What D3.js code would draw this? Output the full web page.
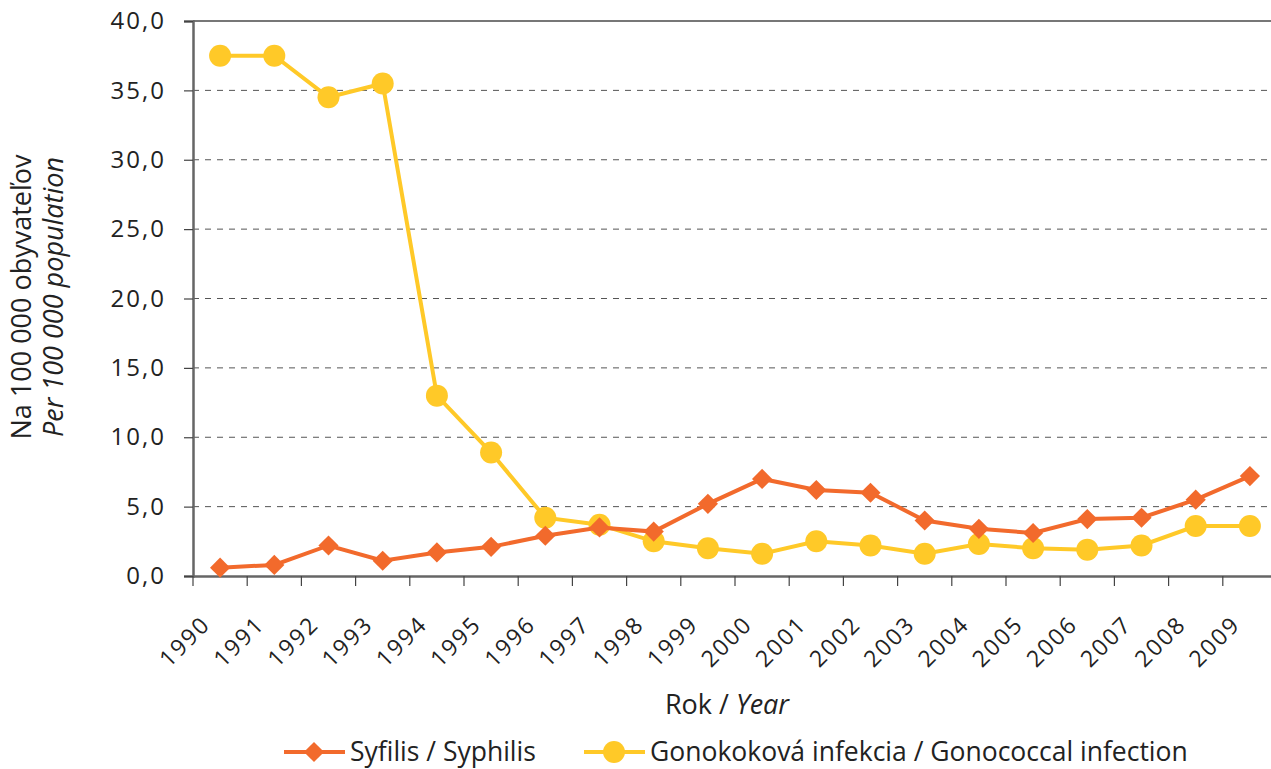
<!DOCTYPE html>
<html><head><meta charset="utf-8">
<script src="https://cdn.jsdelivr.net/npm/d3@7"></script>
<style>body{margin:0;background:#fff;} text{font-family:"Open Sans",sans-serif;fill:#222;}</style>
</head><body><svg id="c" width="1271" height="769"></svg>
<script>
const years = ["1990","1991","1992","1993","1994","1995","1996","1997","1998","1999","2000","2001","2002","2003","2004","2005","2006","2007","2008","2009"];
const syphilis = [0.6,0.8,2.2,1.1,1.7,2.1,2.9,3.5,3.2,5.2,7.0,6.2,6.0,4.0,3.4,3.1,4.1,4.2,5.5,7.2];
const gonococcal = [37.5,37.5,34.5,35.5,13.0,8.9,4.2,3.7,2.5,2.0,1.6,2.5,2.2,1.6,2.3,2.0,1.9,2.2,3.6,3.6];
const yTicks = [0,5,10,15,20,25,30,35,40];
const seriesNames = ["Syfilis / Syphilis","Gonokoková infekcia / Gonococcal infection"];

const svg = d3.select("#c");
const L=193, R=1277, T=21, B=576;
const x = d3.scaleBand().domain(years).range([L,R]);
const y = d3.scaleLinear().domain([0,40]).range([B,T]);
const fmt = d => d.toFixed(1).replace(".",",");
const orange="#F26A2C", yellow="#FFC928";

// grid
svg.append("g").selectAll("line").data(yTicks.filter(d=>d>0&&d<40)).join("line")
  .attr("x1",L).attr("x2",R).attr("y1",d=>y(d)).attr("y2",d=>y(d))
  .attr("stroke","#555").attr("stroke-width",1).attr("stroke-dasharray","6,6");
// top border
svg.append("line").attr("x1",L).attr("x2",R).attr("y1",T).attr("y2",T).attr("stroke","#777").attr("stroke-width",2);

// y axis
const ya = svg.append("g").attr("transform",`translate(${L},0)`)
  .call(d3.axisLeft(y).tickValues(yTicks).tickFormat(fmt).tickSize(9).tickPadding(18));
ya.select(".domain").attr("stroke","#666").attr("stroke-width",2.5);
ya.selectAll(".tick line").attr("stroke","#444").attr("stroke-width",1.2);
ya.selectAll("text").attr("font-size",24).attr("letter-spacing",2).style("font-family","'Open Sans',sans-serif").attr("fill","#222");

// x axis
const xa = svg.append("g").attr("transform",`translate(0,${B})`)
  .call(d3.axisBottom(x).tickSize(0).tickFormat(""));
xa.select(".domain").attr("stroke","#666").attr("stroke-width",2.5);
svg.append("g").selectAll("line").data(years).join("line")
  .attr("x1",d=>x(d)).attr("x2",d=>x(d)).attr("y1",B).attr("y2",B+10)
  .attr("stroke","#444").attr("stroke-width",1.2);
svg.append("g").selectAll("text").data(years).join("text")
  .attr("transform",d=>`translate(${x(d)+x.bandwidth()/2-14},${B+44}) rotate(-45)`)
  .attr("text-anchor","end").attr("dy","0.35em").attr("font-size",23).attr("letter-spacing",2).text(d=>d);

// axis titles
svg.append("text").attr("x",727).attr("y",714).attr("text-anchor","middle").attr("font-size",27)
  .html('Rok / <tspan font-style="italic">Year</tspan>');
const yt = svg.append("text").attr("transform","translate(0,297) rotate(-90)").attr("text-anchor","middle").attr("font-size",27);
yt.append("tspan").attr("x",0).attr("y",31).text("Na 100 000 obyvateľov");
yt.append("tspan").attr("x",0).attr("y",63).attr("font-style","italic").text("Per 100 000 population");

const cx = d => x(d)+x.bandwidth()/2;
const line = d3.line().x((d,i)=>cx(years[i])).y(d=>y(d));

// gonococcal
svg.append("path").datum(gonococcal).attr("d",line).attr("fill","none").attr("stroke",yellow).attr("stroke-width",4);
svg.append("g").selectAll("circle").data(gonococcal).join("circle")
  .attr("cx",(d,i)=>cx(years[i])).attr("cy",d=>y(d)).attr("r",11).attr("fill",yellow);
// syphilis
svg.append("path").datum(syphilis).attr("d",line).attr("fill","none").attr("stroke",orange).attr("stroke-width",4);
const dia = d3.symbol().type(d3.symbolDiamond2).size(260);
svg.append("g").selectAll("path").data(syphilis).join("path")
  .attr("d",dia).attr("transform",(d,i)=>`translate(${cx(years[i])},${y(d)})`).attr("fill",orange);

// legend
const leg = [{name:seriesNames[0],c:orange,x0:284,shape:"d"},{name:seriesNames[1],c:yellow,x0:584,shape:"c"}];
leg.forEach(l=>{
  const g = svg.append("g").attr("transform",`translate(${l.x0},752)`);
  g.append("line").attr("x1",0).attr("x2",61).attr("stroke",l.c).attr("stroke-width",4);
  if(l.shape==="d") g.append("path").attr("d",dia).attr("transform","translate(30,0)").attr("fill",l.c);
  else g.append("circle").attr("cx",30).attr("r",11).attr("fill",l.c);
  g.append("text").attr("x",66).attr("dy","0.35em").attr("font-size",26.5).text(l.name);
});
</script></body></html>
